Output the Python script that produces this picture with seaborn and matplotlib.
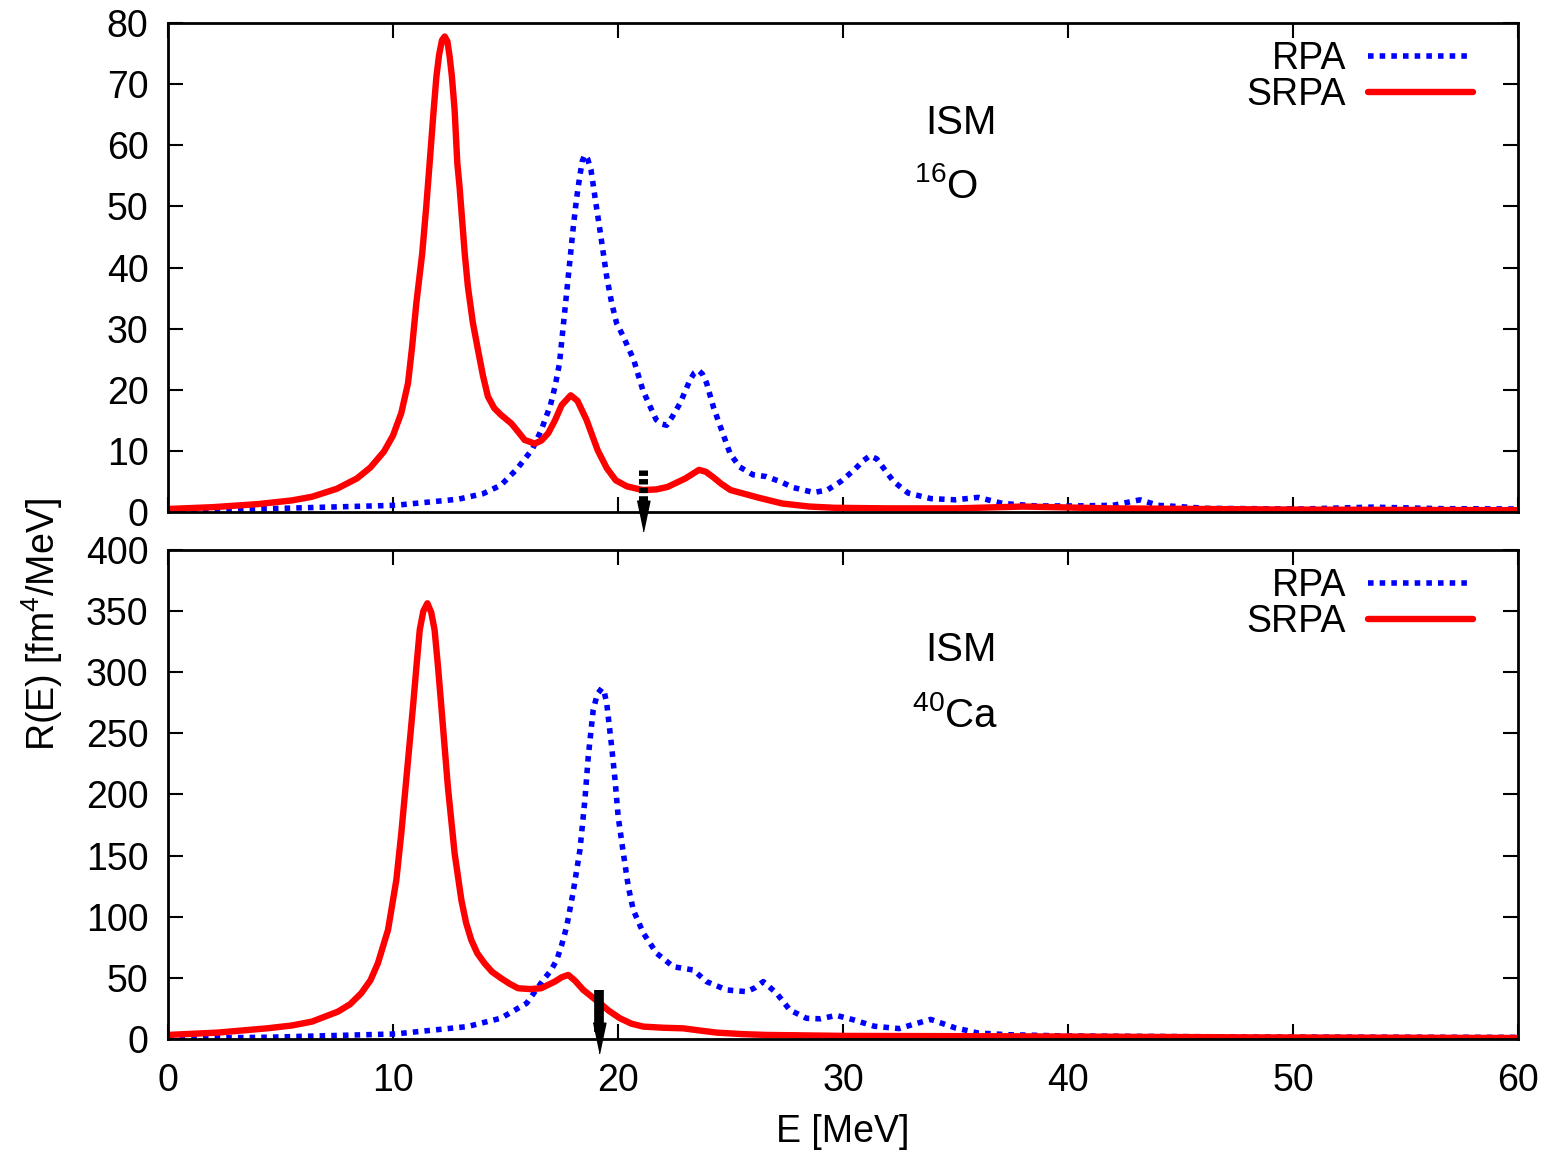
import numpy as np
import pandas as pd
import matplotlib
matplotlib.use('Agg')
import matplotlib.pyplot as plt
import seaborn as sns

# values
# 16O panel
e_rpa_o = [0, 5, 10.1, 12.9, 14.0, 14.8, 15.5, 16.2, 16.6, 17.0, 17.2, 17.4, 17.7, 18.0, 18.15,
           18.3, 18.42, 18.53, 18.65, 18.8, 19.04, 19.2, 19.35, 19.5, 19.72, 19.94, 20.24,
           20.7, 21.1, 21.4, 21.7, 21.95, 22.16, 22.4, 22.76, 23.2, 23.4, 23.57, 23.75, 23.94,
           24.24, 24.5, 24.98, 25.4, 26.0, 26.6, 27.2, 27.8, 28.7, 29.3, 29.9, 30.5, 30.9,
           31.2, 31.5, 31.7, 32.25, 32.9, 33.9, 35.0, 36.0, 37.1, 38.6, 40.3, 42.0, 43.2,
           44.0, 46.2, 50.4, 53.5, 56.7, 60]
r_rpa_o = [0.3, 0.6, 1.1, 2.1, 3.0, 4.4, 7.0, 10.3, 13.5, 17.5, 20.5, 24.3, 35.2, 46.1, 51.0,
           54.9, 57.5, 58.4, 57.8, 56.0, 50.0, 46.1, 42.3, 38.5, 34.2, 30.9, 28.7,
           24.9, 20.0, 17.5, 15.1, 14.4, 14.2, 15.5, 17.8, 21.6, 22.8, 23.2, 22.6, 21.1,
           17.2, 14.5, 9.6, 7.4, 6.1, 5.8, 5.0, 4.0, 3.2, 3.6, 5.0, 6.9, 8.4,
           9.2, 8.7, 7.7, 5.0, 3.1, 2.2, 2.0, 2.4, 1.4, 1.0, 1.0, 1.1, 2.0,
           1.1, 0.6, 0.5, 0.8, 0.55, 0.5]

e_srpa_o = [0, 2, 4, 5.5, 6.4, 7.5, 8.4, 9.0, 9.6, 10.0, 10.37, 10.67, 10.85, 11.04, 11.3,
            11.48, 11.63, 11.81, 11.93, 12.05, 12.18, 12.3, 12.42, 12.52, 12.62, 12.74,
            12.86, 12.96, 13.19, 13.33, 13.55, 13.78, 14.0, 14.22, 14.5, 14.8, 15.26, 15.55,
            15.85, 16.3, 16.6, 16.9, 17.2, 17.5, 17.9, 18.2, 18.6, 19.1, 19.5, 19.9, 20.4,
            21.1, 21.7, 22.2, 22.6, 23.0, 23.6, 23.9, 24.2, 24.6, 25.0, 25.6, 26.3, 27.3,
            28.5, 29.6, 32, 35, 38, 42, 50, 60]
r_srpa_o = [0.5, 0.8, 1.3, 1.9, 2.5, 3.8, 5.5, 7.3, 9.9, 12.5, 16.2, 21.1, 27.0, 34.2, 42.3,
            50.0, 57.1, 65.8, 71.2, 74.8, 77.2, 77.8, 77.0, 74.5, 71.2, 65.8,
            57.1, 53.2, 42.3, 36.9, 31.0, 26.5, 22.3, 18.9, 17.0, 15.9, 14.5, 13.2,
            11.8, 11.2, 11.7, 12.9, 15.0, 17.5, 19.1, 18.2, 15.1, 10.1, 7.2, 5.2, 4.2,
            3.6, 3.7, 4.1, 4.8, 5.5, 6.9, 6.6, 5.8, 4.6, 3.6, 3.0, 2.3, 1.4,
            0.9, 0.7, 0.6, 0.6, 0.9, 0.6, 0.4, 0.3]

# 40Ca panel
e_rpa_ca = [0, 4.4, 10.1, 13.3, 14.8, 15.94, 16.68, 17.0, 17.28, 17.5, 17.72, 18.0, 18.31,
            18.53, 18.68, 18.9, 19.08, 19.28, 19.4, 19.5, 19.72, 19.87, 20.01, 20.24, 20.46,
            20.68, 21.13, 21.72, 22.46, 23.35, 23.94, 24.83, 25.72, 26.1, 26.46, 27.05,
            27.64, 28.38, 29.0, 29.7, 30.4, 31.4, 32.5, 33.1, 33.9, 35.0, 36.0, 37.3, 39.8,
            48.3, 60]
r_rpa_ca = [0.5, 1.4, 4.1, 10.1, 17.0, 29.2, 48.3, 55.5, 64.6, 77.0, 91.9, 119.2, 154.6,
            195.5, 231.0, 269.1, 282.0, 286.9, 283.0, 274.6, 239.1, 211.9, 181.8, 151.9,
            124.6, 105.5, 86.5, 70.1, 59.1, 56.4, 46.9, 40.1, 38.7, 42.0, 46.9, 37.4,
            23.7, 16.9, 16.5, 19.3, 16.0, 10.4, 8.5, 11.8, 16.0, 9.0, 4.9, 3.5, 2.5,
            1.6, 1.3]

e_srpa_ca = [0, 2.2, 4.4, 5.5, 6.4, 7.56, 8.1, 8.59, 9.0, 9.33, 9.78, 10.15, 10.37, 10.59,
             10.89, 11.05, 11.19, 11.35, 11.53, 11.7, 11.85, 12.0, 12.15, 12.44, 12.74, 13.04,
             13.25, 13.48, 13.75, 14.07, 14.4, 14.81, 15.2, 15.56, 16.1, 16.59, 17.19, 17.5,
             17.79, 18.1, 18.46, 19.2, 19.6, 20.09, 20.6, 21.13, 22.0, 22.9, 23.6, 24.39,
             25.5, 26.6, 30.16, 35, 40, 48, 60]
r_srpa_ca = [3.3, 5.2, 8.7, 11.0, 14.2, 22.4, 28.5, 37.4, 48.0, 61.9, 89.2, 130.0, 168.2,
             211.9, 271.9, 306.0, 334.6, 350.0, 356.4, 349.0, 334.6, 305.0, 271.9, 206.4,
             151.9, 113.7, 95.0, 81.0, 70.0, 61.9, 55.0, 49.6, 45.0, 41.5, 40.8, 41.5, 46.9,
             50.5, 52.4, 47.5, 40.1, 29.2, 23.0, 16.9, 12.5, 10.1, 9.2, 8.7, 7.0, 5.2,
             4.0, 3.3, 2.5, 2.3, 2.0, 1.3, 0.8]

# arrows (energy, top of shaft, bottom of shaft, head centre)
arrow_o = (21.1, 6.9, 1.2, -0.7)
arrow_ca = (19.16, 40.0, 6.0, 0.5)

sns.set_style('ticks')
plt.rcParams['font.family'] = ['Liberation Sans', 'DejaVu Sans']
plt.rcParams['mathtext.default'] = 'regular'
for k in ['text.color', 'axes.labelcolor', 'xtick.color', 'ytick.color', 'axes.edgecolor']:
    plt.rcParams[k] = 'black'

fs = 27
fs_big = 29
dotted = (0, (1, 1.1))
red = '#ff0000'
blue = '#0000ff'
lw_red = 4.6
lw_blue = 4.0

fig = plt.figure(figsize=(15.48, 11.53), dpi=100)
ax1 = fig.add_axes([0.1085, 0.5559, 0.8721, 0.4241])
ax2 = fig.add_axes([0.1085, 0.0989, 0.8721, 0.4241])

panels = [
    (ax1, e_rpa_o, r_rpa_o, e_srpa_o, r_srpa_o, 80, 10, arrow_o, '$^{16}$O', (35.24, 63.7), (34.6, 53.3), (0.6, 0.35)),
    (ax2, e_rpa_ca, r_rpa_ca, e_srpa_ca, r_srpa_ca, 400, 50, arrow_ca, '$^{40}$Ca', (35.24, 318.5), (35.0, 265.0), None),
]

head = [(-0.42, 1), (0.42, 1), (0, -1)]

for ax, ex, rx, es, rs, ymax, ystep, arr, nucl, ism_pos, nuc_pos, arr_dash in panels:
    sns.lineplot(x=ex, y=rx, ax=ax, color=blue, lw=lw_blue, linestyle=dotted,
                 estimator=None, sort=False)
    sns.lineplot(x=es, y=rs, ax=ax, color=red, lw=lw_red, estimator=None, sort=False)

    ea, y0, y1, yh = arr
    if arr_dash is not None:
        ax.plot([ea, ea], [y0, y1], color='k', lw=6.5, linestyle=(0, arr_dash),
                solid_capstyle='butt', clip_on=False, zorder=5)
    else:
        ax.plot([ea, ea], [y0, y1], color='k', lw=7, solid_capstyle='butt',
                clip_on=False, zorder=5)
    ax.plot([ea], [yh], marker=head, markersize=22, color='k', clip_on=False, zorder=5)

    ax.set_xlim(0, 60)
    ax.set_ylim(0, ymax)
    ax.set_xticks(np.arange(0, 61, 10))
    ax.set_yticks(np.arange(0, ymax + 1, ystep))
    ax.tick_params(direction='in', top=True, right=True, length=11, width=1.5,
                   labelsize=fs, pad=14, colors='black')
    ax.tick_params(axis='x', pad=17)
    for s in ax.spines.values():
        s.set_linewidth(2)
        s.set_color('k')
    ax.set_xlabel('')
    ax.set_ylabel('')

    ax.text(*ism_pos, 'ISM', fontsize=fs_big, ha='center', va='center')
    ax.text(*nuc_pos, nucl, fontsize=fs_big, ha='center', va='center')

    h_rpa, = ax.plot([], [], color=blue, lw=lw_blue, linestyle=dotted)
    h_srpa, = ax.plot([], [], color=red, lw=lw_red)
    ax.legend([h_rpa, h_srpa], ['RPA', 'SRPA'], loc='upper right',
              bbox_to_anchor=(0.967, 0.963), frameon=False, markerfirst=False,
              fontsize=fs, handlelength=2.8, handletextpad=0.6, labelspacing=0.0,
              borderpad=0, borderaxespad=0)

ax1.tick_params(labelbottom=False)

fig.text(0.027, 0.458, 'R(E) [fm$^4$/MeV]', rotation=90, fontsize=fs,
         ha='center', va='center')
fig.text(0.5446, 0.018, 'E [MeV]', fontsize=fs, ha='center', va='center')

plt.savefig('out.png', dpi=100)
plt.close()
